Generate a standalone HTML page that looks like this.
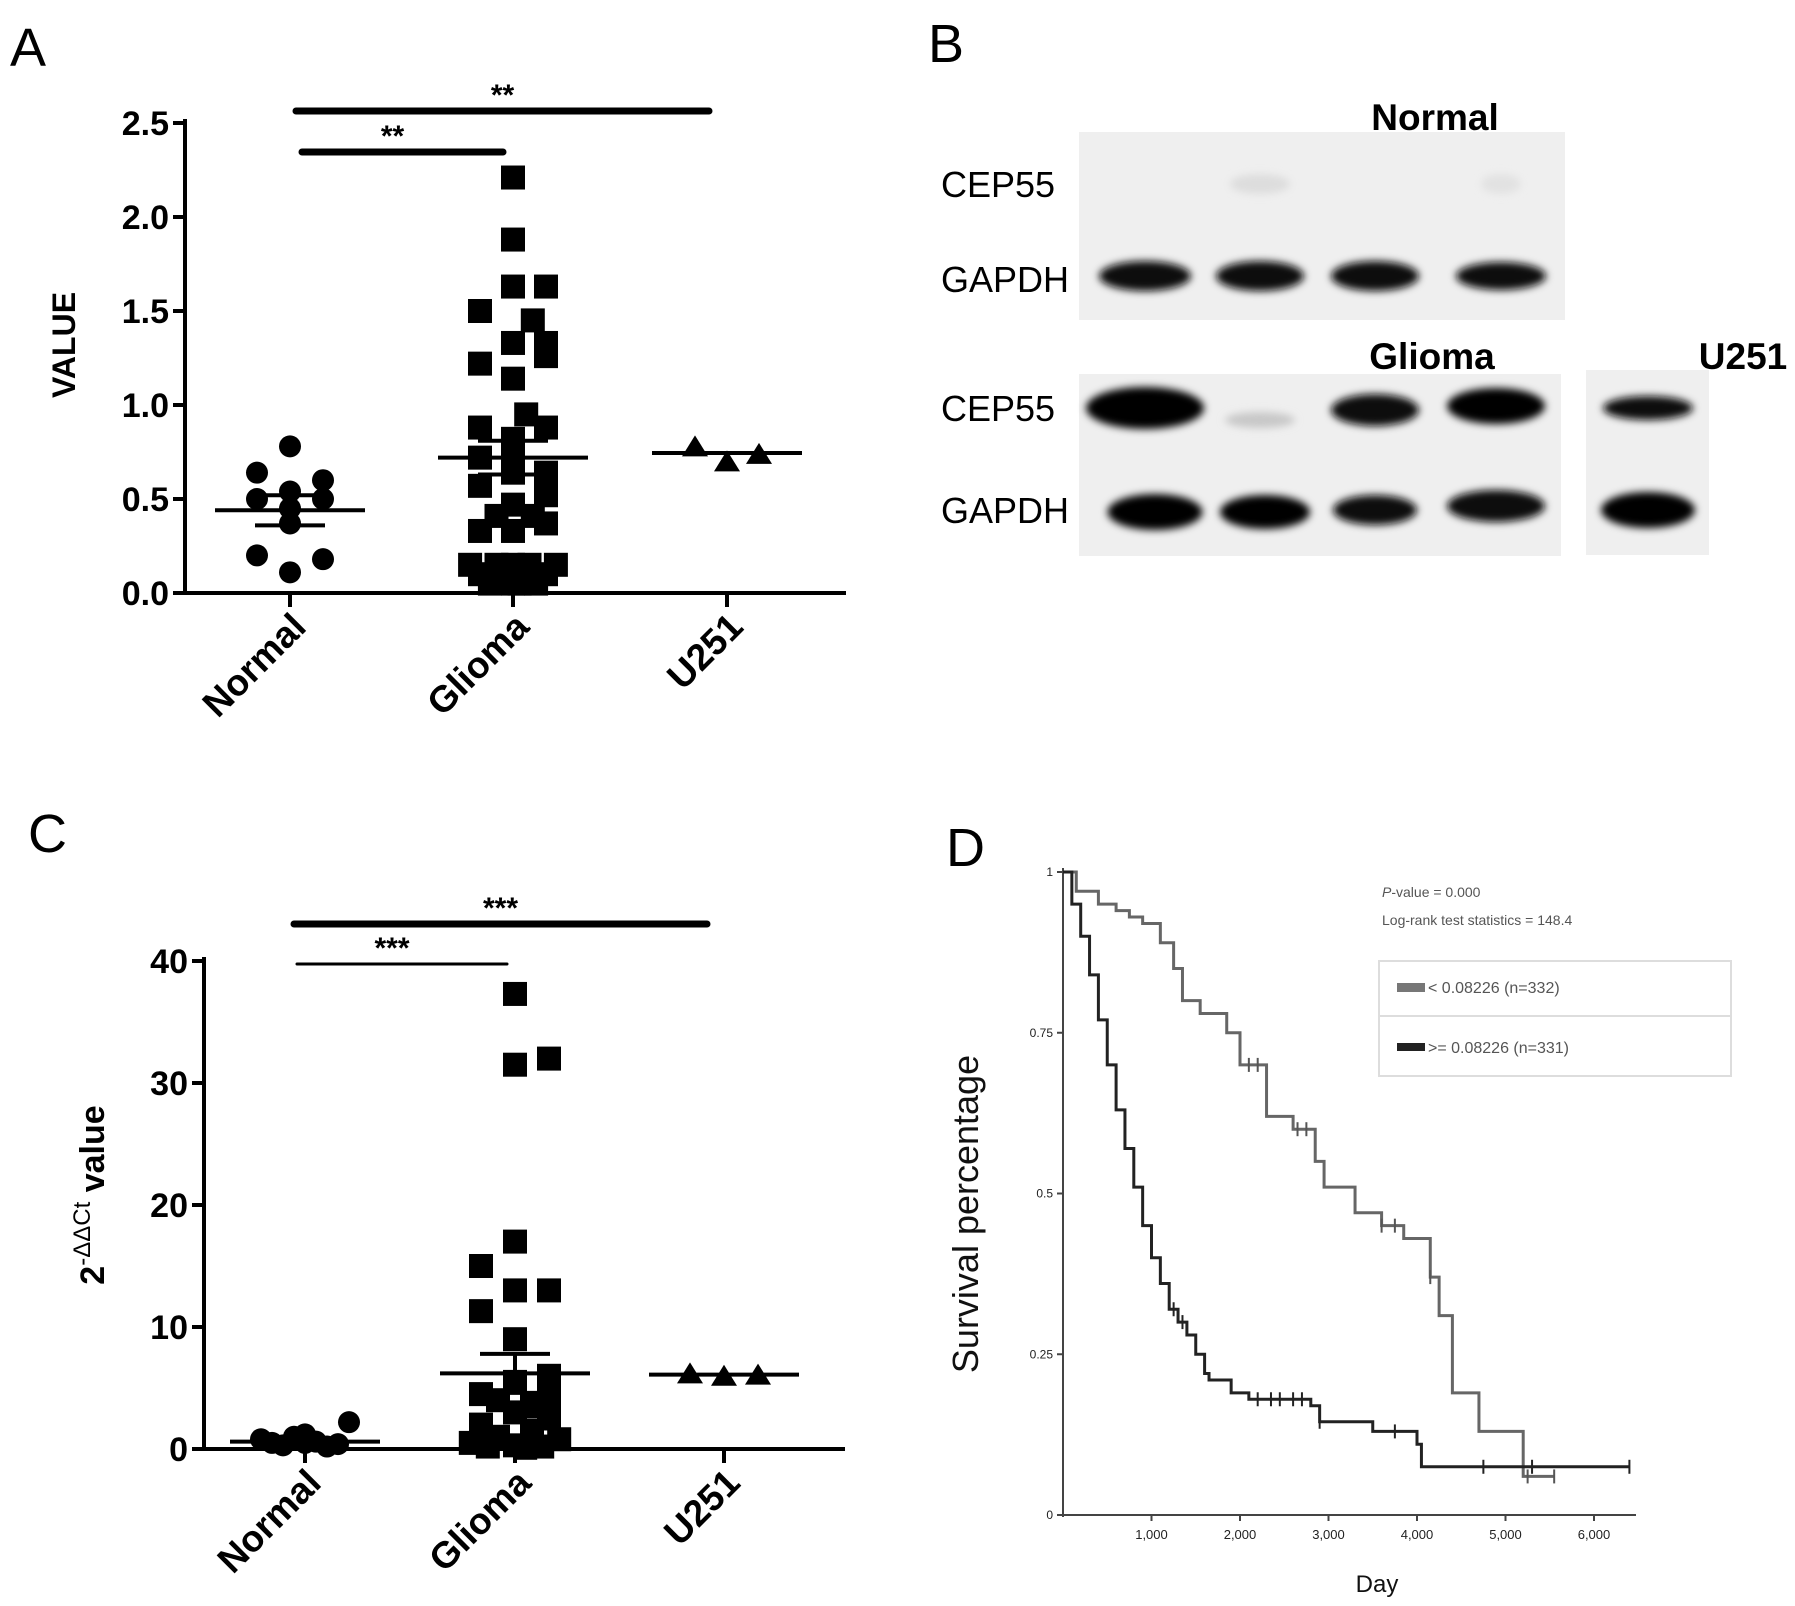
<!DOCTYPE html>
<html><head><meta charset="utf-8">
<style>
html,body{margin:0;padding:0;background:#fff;}
svg{display:block;font-family:"Liberation Sans",Arial,sans-serif;}
</style></head>
<body>
<svg id="fig" width="1795" height="1606" viewBox="0 0 1795 1606" xmlns="http://www.w3.org/2000/svg">
<defs>
<filter id="blur" x="-30%" y="-60%" width="160%" height="220%"><feGaussianBlur stdDeviation="4"/></filter>
</defs>
<rect width="1795" height="1606" fill="#fff"/>
<text x="10" y="66" font-size="54">A</text>
<text x="928" y="62" font-size="54">B</text>
<text x="28" y="852" font-size="54">C</text>
<text x="946" y="866" font-size="54">D</text>

<g id="panelA"></g>
<g id="panelB"></g>
<g id="panelC"></g>
<g id="panelD"></g>
</svg>
<script>
// ===== Panel A data =====
const aCategories = ["Normal","Glioma","U251"];
const aTicks = [0,0.5,1.0,1.5,2.0,2.5];
const aTickLabels = ["0.0","0.5","1.0","1.5","2.0","2.5"];
const aNormal = [0.78,0.64,0.60,0.50,0.54,0.50,0.45,0.37,0.20,0.18,0.11];
const aNormalCol = [0,-1,1,-1,0,1,0,0,-1,1,0];
const aGlioma = [2.21,1.88,1.63,1.63,1.50,1.45,1.33,1.33,1.26,1.22,1.14,0.95,0.88,0.88,0.82,0.72,0.72,0.64,0.64,0.57,0.52,0.47,0.41,0.41,0.37,0.33,0.33,0.15,0.15,0.15,0.15,0.15,0.10,0.10,0.10,0.10,0.05,0.05,0.05,0.05];
const aGliomaCol = [0,0,0,1,-1,0.6,0,1,1,-1,0,0.4,-1,1,0,-1,0,0,1,-1,1,0,-0.5,0.6,1,-1,0,-1.3,-0.5,0,0.5,1.3,-1,-0.3,0.3,1,-0.7,0,0.7,0.2];
const aU251 = [0.78,0.74,0.70];
const aU251Col = [-1,1,0];
const aMeans = [0.44,0.72,0.745];
const aSem = [0.08,0.09,0.01];

// ===== Panel C data =====
const cTicks = [0,10,20,30,40];
const cNormal = [0.8,0.5,0.3,1.0,1.2,0.6,0.2,0.4,2.2,0.5];
const cNormalCol = [-2,-1.5,-1,-0.5,0,0.5,1,1.5,2,0];
const cGlioma = [37.3,31.5,32.0,17.0,15.0,13.0,13.0,11.3,9.0,6.0,5.5,4.5,4.2,4.0,3.5,3.0,2.5,2.0,1.5,1.0,0.8,0.5,0.3,0.2,0.2,0.1];
const cGliomaCol = [0,0,1,0,-1,0,1,-1,0,1,0,-1,1,-0.5,0.5,0,1,-1,0.5,-0.5,1.3,-1.3,0,0.8,-0.8,0.3];
const cU251 = [6.2,6.0,6.1];
const cU251Col = [-1,0,1];
const cMeans = [0.6,6.2,6.1];
const cSem = [0.2,1.6,0.05];

// ===== Panel D data =====
const dXTicks = [1000,2000,3000,4000,5000,6000];
const dXTickLabels = ["1,000","2,000","3,000","4,000","5,000","6,000"];
const dYTicks = [0,0.25,0.5,0.75,1];
const dYTickLabels = ["0","0.25","0.5","0.75","1"];
const lowDays = [0,150,400,600,750,900,1100,1250,1350,1550,1850,2000,2300,2600,2850,2950,3300,3600,3850,4000,4150,4250,4400,4700,5200,5550];
const lowSurv = [1.0,0.97,0.95,0.94,0.93,0.92,0.89,0.85,0.80,0.78,0.75,0.70,0.62,0.60,0.55,0.51,0.47,0.45,0.43,0.43,0.37,0.31,0.19,0.13,0.06,0.06];
const highDays = [0,100,200,300,400,500,600,700,800,900,1000,1100,1200,1300,1400,1500,1600,1650,1900,2100,2800,2900,3500,4000,4050,6400];
const highSurv = [1.0,0.95,0.90,0.84,0.77,0.70,0.63,0.57,0.51,0.45,0.40,0.36,0.32,0.30,0.28,0.25,0.22,0.21,0.19,0.18,0.17,0.145,0.13,0.11,0.075,0.075];
const highCensor = [1250,1350,2200,2350,2450,2600,2700,2900,3750,4750,5300,6400];
const lowCensor = [2100,2200,2650,2750,3600,3750,4150,5250,5550];

const NS="http://www.w3.org/2000/svg";
function el(tag,attrs,parent,text){const e=document.createElementNS(NS,tag);for(const k in attrs)e.setAttribute(k,attrs[k]);if(text!==undefined)e.textContent=text;parent.appendChild(e);return e;}

function dotPlot(g,cfg){
  const y=v=>cfg.y0-(v-cfg.vmin)/(cfg.vmax-cfg.vmin)*(cfg.y0-cfg.yTop);
  let a=el('line',{x1:cfg.ax,y1:cfg.yTop-4,x2:cfg.ax,y2:cfg.y0,stroke:'#000','stroke-width':4},g);
  
  a=el('line',{x1:cfg.ax,y1:cfg.y0,x2:cfg.xEnd,y2:cfg.y0,stroke:'#000','stroke-width':4},g);
  
  cfg.ticks.forEach((t,i)=>{
    const tk=el('line',{x1:cfg.ax-12,y1:y(t),x2:cfg.ax,y2:y(t),stroke:'#000','stroke-width':4},g);
    
    const tl=el('text',{x:cfg.ax-16,y:y(t)+12,'text-anchor':'end','font-size':34,'font-weight':'bold'},g,cfg.tickLabels[i]);
    
  });
  cfg.catX.forEach((cx,i)=>{
    const tk=el('line',{x1:cx,y1:cfg.y0,x2:cx,y2:cfg.y0+14,stroke:'#000','stroke-width':4},g);
    
    const tl=el('text',{x:0,y:0,'text-anchor':'end','font-size':37,'font-weight':'bold',transform:`translate(${cx+18},${cfg.y0+36}) rotate(-45)`},g,aCategories[i]);
    
  });
  const groups=[[cfg.normal,cfg.normalCol,'circle',cfg.jit[0]],[cfg.glioma,cfg.gliomaCol,'square',cfg.jit[1]],[cfg.u251,cfg.u251Col,'tri',cfg.jit[2]]];
  groups.forEach((gr,gi)=>{
    const cx=cfg.catX[gi];
    gr[0].forEach((v,i)=>{
      const px=cx+gr[1][i]*gr[3], py=y(v);
      let m;
      if(gr[2]==='circle'){m=el('circle',{cx:px,cy:py,r:11,fill:'#000'},g);}
      else if(gr[2]==='square'){m=el('rect',{x:px-12,y:py-12,width:24,height:24,fill:'#000'},g);}
      else {m=el('polygon',{points:`${px},${py-11} ${px-13},${py+10} ${px+13},${py+10}`,fill:'#000'},g);}
      
    });
    const mv=cfg.means[gi], s=cfg.sem[gi];
    let ml=el('line',{x1:cx-75,y1:y(mv),x2:cx+75,y2:y(mv),stroke:'#000','stroke-width':4},g);
    
    if(gi<2){
      [mv+s,mv-s].forEach(sv=>{const sl=el('line',{x1:cx-35,y1:y(sv),x2:cx+35,y2:y(sv),stroke:'#000','stroke-width':4},g);
        });
      const vl=el('line',{x1:cx,y1:y(mv+s),x2:cx,y2:y(mv-s),stroke:'#000','stroke-width':4},g);
      
    }
  });
  cfg.sig.forEach(s=>{
    const b=el('line',{x1:s[0],y1:s[2],x2:s[1],y2:s[2],stroke:'#000','stroke-width':s[4],'stroke-linecap':'round'},g);
    
    const t=el('text',{x:(s[0]+s[1])/2-(s[1]-s[0]>300?0:10),y:s[2]-6,'text-anchor':'middle','font-size':30,'font-weight':'bold'},g,s[3]);
    
  });
}

// Panel A
const gA=document.getElementById('panelA');
dotPlot(gA,{ax:185,y0:593,yTop:123,vmin:0,vmax:2.5,xEnd:846,ticks:aTicks,tickLabels:aTickLabels,catX:[290,513,727],
  normal:aNormal,normalCol:aNormalCol,glioma:aGlioma,gliomaCol:aGliomaCol,u251:aU251,u251Col:aU251Col,jit:[33,33,32],
  means:aMeans,sem:aSem,sig:[[296,709,111,'**',7],[302,503,152,'**',7]]});
let tA=el('text',{x:0,y:0,'text-anchor':'middle','font-size':32,'font-weight':'bold',transform:'translate(75,345) rotate(-90)'},gA,'VALUE');


// Panel C
const gC=document.getElementById('panelC');
dotPlot(gC,{ax:204,y0:1449,yTop:961,vmin:0,vmax:40,xEnd:845,ticks:cTicks,tickLabels:cTicks.map(String),catX:[305,515,724],
  normal:cNormal,normalCol:cNormalCol,glioma:cGlioma,gliomaCol:cGliomaCol,u251:cU251,u251Col:cU251Col,jit:[22,34,34],
  means:cMeans,sem:cSem,sig:[[294,707,924,'***',7],[297,507,964,'***',3]]});
let tC=el('text',{x:0,y:0,'text-anchor':'middle','font-size':34,'font-weight':'bold',transform:'translate(104,1195) rotate(-90)'},gC);

el('tspan',{},tC,'2');el('tspan',{dy:-14,'font-size':24,'font-weight':'normal'},tC,'-ΔΔCt');el('tspan',{dy:14},tC,' value');

// Panel B - western blot
const gB=document.getElementById('panelB');
function lbl(x,y,t,size,anchor,name){const e=el('text',{x:x,y:y,'font-size':size,'text-anchor':anchor||'start'},gB,t);return e;}
lbl(1435,130,'Normal',37,'middle','blot-label-normal').setAttribute('font-weight','bold');
lbl(1432,369,'Glioma',37,'middle','blot-label-glioma').setAttribute('font-weight','bold');
lbl(1743,369,'U251',37,'middle','blot-label-u251').setAttribute('font-weight','bold');
lbl(941,197,'CEP55',36,'start','row-label-cep55');
lbl(941,292,'GAPDH',36,'start','row-label-gapdh');
lbl(941,421,'CEP55',36,'start','row-label-cep55');
lbl(941,523,'GAPDH',36,'start','row-label-gapdh');
const boxes=[[1079,132,486,188],[1079,374,482,182],[1586,370,123,185]];
boxes.forEach(b=>{const r=el('rect',{x:b[0],y:b[1],width:b[2],height:b[3],fill:'#efefef'},gB);});
const bands=[[1145,276,92,30,'#0a0a0a'],[1260,276,88,30,'#0a0a0a'],[1375,276,88,30,'#0a0a0a'],[1501,276,90,28,'#111'],
 [1260,184,60,20,'#ddd'],[1501,184,40,20,'#e2e2e2'],
 [1145,408,118,42,'#050505'],[1260,420,70,16,'#c8c8c8'],[1375,410,88,32,'#0a0a0a'],[1496,406,98,36,'#050505'],[1648,408,90,24,'#111'],
 [1155,512,95,36,'#050505'],[1265,512,90,34,'#050505'],[1375,510,84,30,'#0a0a0a'],[1496,506,98,32,'#0a0a0a'],[1648,510,94,36,'#050505']];
bands.forEach(b=>{const e=el('ellipse',{cx:b[0],cy:b[1],rx:b[2]/2,ry:b[3]/2,fill:b[4],filter:'url(#blur)'},gB);});

// Panel D - survival
const gD=document.getElementById('panelD');
const dx=v=>1063+v*0.0885, dy=v=>1515-v*643;
let ax=el('line',{x1:1063,y1:868,x2:1063,y2:1517,stroke:'#444','stroke-width':2},gD);
ax=el('line',{x1:1061,y1:1515,x2:1636,y2:1515,stroke:'#444','stroke-width':2},gD);
dYTicks.forEach((t,i)=>{
  const l=el('line',{x1:1057,y1:dy(t),x2:1063,y2:dy(t),stroke:'#444','stroke-width':2},gD);
  const tx=el('text',{x:1053,y:dy(t)+4,'text-anchor':'end','font-size':12,fill:'#222'},gD,dYTickLabels[i]);
});
dXTicks.forEach((t,i)=>{
  const l=el('line',{x1:dx(t),y1:1515,x2:dx(t),y2:1521,stroke:'#444','stroke-width':2},gD);
  const tx=el('text',{x:dx(t),y:1539,'text-anchor':'middle','font-size':13,fill:'#222'},gD,dXTickLabels[i]);
});
function step(days,surv){let d='M'+dx(days[0])+' '+dy(surv[0])+' ';for(let i=1;i<days.length;i++){d+='H'+dx(days[i])+' V'+dy(surv[i])+' ';}return d;}
function survAt(days,surv,x){let s=surv[0];for(let i=0;i<days.length;i++){if(days[i]<=x)s=surv[i];}return s;}
let cl=el('path',{d:step(lowDays,lowSurv),fill:'none',stroke:'#666','stroke-width':3},gD);
let ch=el('path',{d:step(highDays,highSurv),fill:'none',stroke:'#222','stroke-width':3},gD);
lowCensor.forEach(x=>{const s=survAt(lowDays,lowSurv,x);const m=el('line',{x1:dx(x),y1:dy(s)-7,x2:dx(x),y2:dy(s)+7,stroke:'#555','stroke-width':2},gD);});
highCensor.forEach(x=>{const s=survAt(highDays,highSurv,x);const m=el('line',{x1:dx(x),y1:dy(s)-7,x2:dx(x),y2:dy(s)+7,stroke:'#222','stroke-width':2},gD);});
let t;
t=el('text',{x:0,y:0,'text-anchor':'middle','font-size':36,fill:'#111',transform:'translate(978,1214) rotate(-90)'},gD,'Survival percentage');
t=el('text',{x:1377,y:1592,'text-anchor':'middle','font-size':24,fill:'#111'},gD,'Day');
t=el('text',{x:1382,y:897,'font-size':14,fill:'#555'},gD);
el('tspan',{'font-style':'italic'},t,'P');el('tspan',{},t,'-value = 0.000');
t=el('text',{x:1382,y:925,'font-size':14,fill:'#555'},gD,'Log-rank test statistics = 148.4');
let lg=el('rect',{x:1379,y:961,width:352,height:115,fill:'#fff',stroke:'#ddd','stroke-width':2},gD);
el('line',{x1:1379,y1:1016,x2:1731,y2:1016,stroke:'#ddd','stroke-width':2},gD);
lg=el('rect',{x:1397,y:983,width:28,height:9,fill:'#777'},gD);
t=el('text',{x:1428,y:993,'font-size':16,fill:'#555'},gD,'< 0.08226 (n=332)');
lg=el('rect',{x:1397,y:1043,width:28,height:8,fill:'#222'},gD);
t=el('text',{x:1428,y:1053,'font-size':16,fill:'#555'},gD,'>= 0.08226 (n=331)');
</script>
</body></html>
